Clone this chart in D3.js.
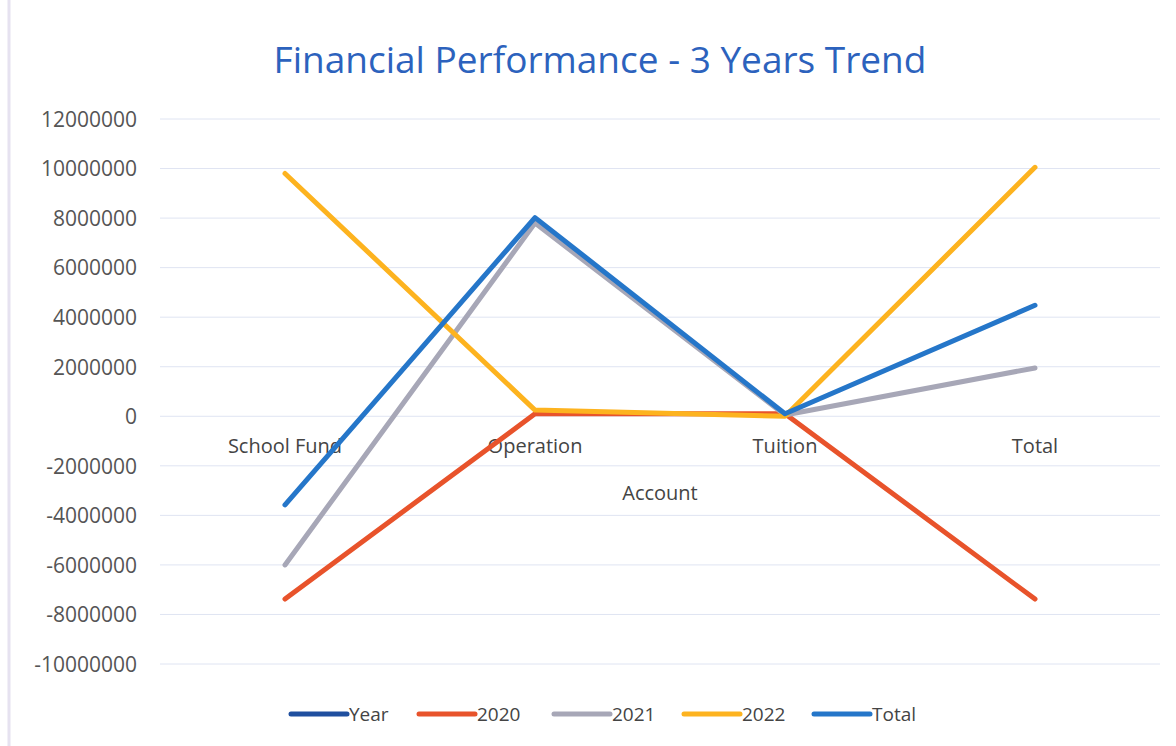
<!DOCTYPE html>
<html>
<head>
<meta charset="utf-8">
<script src="https://cdn.jsdelivr.net/npm/d3@7"></script>
<style>
  body { margin: 0; background: #fff; }
  text { font-family: "Open Sans", "Noto Sans", sans-serif; }
</style>
</head>
<body>
<svg width="1176" height="746"></svg>
<script>
// data
var accounts = ["School Fund", "Operation", "Tuition", "Total"];
var seriesNames = ["Year", "2020", "2021", "2022", "Total"];
var yearValues = [null, null, null, null];
var values2020 = [-7380000, 100000, 100000, -7380000];
var values2021 = [-6000000, 7800000, 50000, 1950000];
var values2022 = [9800000, 250000, 0, 10050000];
var totalValues = [-3580000, 8020000, 100000, 4480000];
var yTicks = [-10000000, -8000000, -6000000, -4000000, -2000000, 0,
              2000000, 4000000, 6000000, 8000000, 10000000, 12000000];
var colors = ["#1f4f9f", "#e8532b", "#a7a7b7", "#fdb31f", "#2576c9"];

var series = [yearValues, values2020, values2021, values2022, totalValues].map((v, i) => ({
  name: seriesNames[i],
  color: colors[i],
  values: v
}));

var svg = d3.select("svg");

// faint page border on the left
svg.append("line")
  .attr("x1", 9).attr("x2", 9).attr("y1", 0).attr("y2", 746)
  .attr("stroke", "#e6e2f0").attr("stroke-width", 3);

var xScale = d3.scaleBand().domain(accounts).range([160, 1160]);
var yScale = d3.scaleLinear().domain([-10000000, 12000000]).range([664, 119]);

// gridlines
svg.append("g")
  .selectAll("line")
  .data(yTicks)
  .enter()
    .append("line")
    .attr("x1", 160).attr("x2", 1160)
    .attr("y1", d => yScale(d)).attr("y2", d => yScale(d))
    .attr("stroke", "#dfe4f2").attr("stroke-width", 1);

// y axis labels (plain hyphen for negatives)
var yAxis = d3.axisLeft(yScale).tickValues(yTicks).tickSize(0).tickPadding(0).tickFormat(d => String(d));
var yG = svg.append("g").attr("transform", "translate(137,0)").call(yAxis);
yG.select(".domain").remove();
yG.selectAll("text")
  .attr("font-size", 21)
  .attr("fill", "#555")
  .attr("dy", "0.35em")
  .style("font-family", "'Open Sans', sans-serif");

// category labels at zero line
var xAxis = d3.axisBottom(xScale).tickSize(0).tickPadding(0);
var xG = svg.append("g").attr("transform", "translate(0," + yScale(0) + ")").call(xAxis);
xG.select(".domain").remove();
xG.selectAll("text")
  .attr("font-size", 20)
  .attr("fill", "#444")
  .attr("y", 37)
  .attr("dy", 0)
  .style("font-family", "'Open Sans', sans-serif");

// axis title
svg.append("text")
  .attr("x", 660).attr("y", 500)
  .attr("text-anchor", "middle")
  .attr("font-size", 20)
  .attr("fill", "#444")
  .text("Account");

// title
svg.append("text")
  .attr("x", 600).attr("y", 73)
  .attr("text-anchor", "middle")
  .attr("font-size", 37)
  .attr("fill", "#2c62bd")
  .text("Financial Performance - 3 Years Trend");

// lines
var line = d3.line()
  .defined(d => d.v !== null)
  .x(d => xScale(d.a) + xScale.bandwidth() / 2)
  .y(d => yScale(d.v));

svg.append("g")
  .selectAll("path")
  .data(series)
  .enter()
    .append("path")
    .attr("d", s => line(s.values.map((v, i) => ({ a: accounts[i], v: v }))))
    .attr("fill", "none")
    .attr("stroke", s => s.color)
    .attr("stroke-width", 5)
    .attr("stroke-linecap", "round")
    .attr("stroke-linejoin", "round");

// legend
var legendX = [291, 419, 554, 684, 814];
var legend = svg.append("g")
  .selectAll("g")
  .data(series)
  .enter()
    .append("g")
    .attr("transform", (s, i) => "translate(" + legendX[i] + ",714)");

legend.append("line")
  .attr("x1", 0).attr("x2", 56)
  .attr("stroke", s => s.color)
  .attr("stroke-width", 5)
  .attr("stroke-linecap", "round");

legend.append("text")
  .attr("x", 58).attr("dy", "0.35em")
  .attr("font-size", 19)
  .attr("fill", "#444")
  .text(s => s.name);
</script>
</body>
</html>
